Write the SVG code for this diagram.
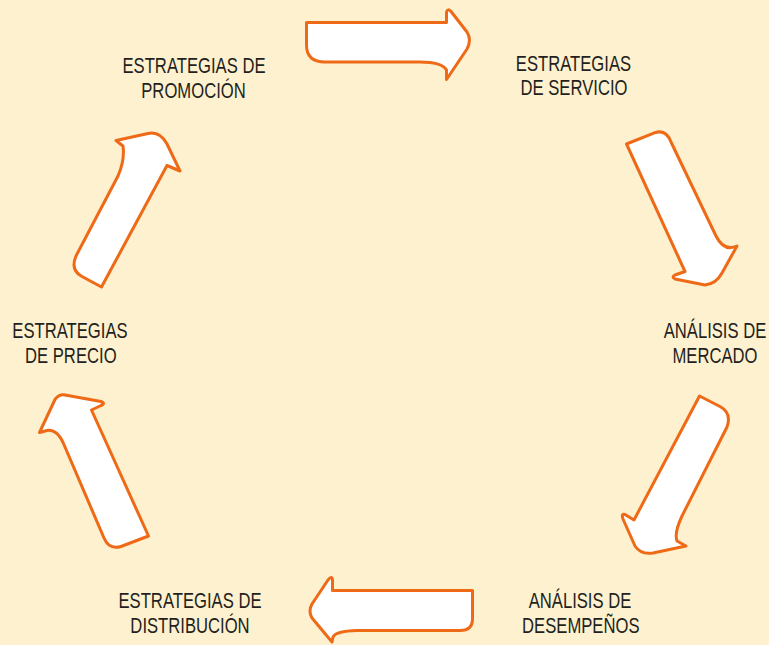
<svg xmlns="http://www.w3.org/2000/svg" width="769" height="645" viewBox="0 0 769 645">
<style>
.bg{fill:#FEF1CF}
.arr{fill:#FFFFFF;stroke:#EE6A17;stroke-width:3;stroke-linejoin:round}
.lbl{font-family:"Liberation Sans",Arial,sans-serif;font-size:22.5px;fill:#231F20;text-anchor:middle}
</style>
<rect class="bg" x="0" y="0" width="769" height="645"/>
<g id="connectors">
<path id="arrow-top" class="arr" d="M306.5,22.5 L446.5,22.5 L446.5,12 Q447.5,8 451,11.5 L467,32 Q472,40 467,49 L446.5,79.5 L446.5,70 Q442,62 420,62 L325,62 Q306.5,62 306.5,45 Z"/>
<path id="arrow-right-top" class="arr" d="M626.5,144 L655,132.7 Q666,129 671,142 L716,236 Q724,252 737,246 L722,273 Q716,284 705,285 L675,279 Q671,277 675,275 L685,271.5 Z"/>
<path id="arrow-right-bottom" class="arr" d="M699.5,396 L720,406.5 Q732,413 727,427 L682,516 Q674,533 677,541 L686,546 L653,553 Q641,555 635,546 L623,519 Q621,513 625,514.5 L634,520 Z"/>
<path id="arrow-bottom" class="arr" d="M472.5,590.5 L472.5,619 Q472.5,630.5 460,630.5 L357,630.5 Q336,631 333,637 L332,642 L312,618 Q308,611 312,604 L328,580 Q332,575 332.5,580 L332.5,590.5 Z"/>
<path id="arrow-left-bottom" class="arr" d="M148.5,536 L121,546.5 Q109,550 104,538 L63.5,443.5 Q57,429 47,430.5 L39.5,432.5 L55,399.5 Q59,394 65,395 L101,401.5 Q106,403.5 101,405.5 L91.5,410 Z"/>
<path id="arrow-left-top" class="arr" d="M101.5,287 L82,276.5 Q70,270 76,256 L118,176 Q125,160 123,146 L116,140.5 L148,133.5 Q160,131 167,144 L180,171 L167,165.5 Z"/>
</g>
<g id="node-promocion">
<text class="lbl" transform="translate(194,73.3) scale(0.74,1)">ESTRATEGIAS DE</text>
<text class="lbl" transform="translate(193.5,98) scale(0.74,1)">PROMOCIÓN</text>
</g>
<g id="node-servicio">
<text class="lbl" transform="translate(573.5,71) scale(0.74,1)">ESTRATEGIAS</text>
<text class="lbl" transform="translate(574,95) scale(0.74,1)">DE SERVICIO</text>
</g>
<g id="node-mercado">
<text class="lbl" transform="translate(715,338.3) scale(0.74,1)">ANÁLISIS DE</text>
<text class="lbl" transform="translate(715,363.3) scale(0.74,1)">MERCADO</text>
</g>
<g id="node-desempenos">
<text class="lbl" transform="translate(580,608.3) scale(0.74,1)">ANÁLISIS DE</text>
<text class="lbl" transform="translate(580.8,633.3) scale(0.74,1)">DESEMPEÑOS</text>
</g>
<g id="node-distribucion">
<text class="lbl" transform="translate(190,608.3) scale(0.74,1)">ESTRATEGIAS DE</text>
<text class="lbl" transform="translate(190,633.3) scale(0.74,1)">DISTRIBUCIÓN</text>
</g>
<g id="node-precio">
<text class="lbl" transform="translate(70,338.3) scale(0.74,1)">ESTRATEGIAS</text>
<text class="lbl" transform="translate(70.8,362.7) scale(0.74,1)">DE PRECIO</text>
</g>
</svg>
